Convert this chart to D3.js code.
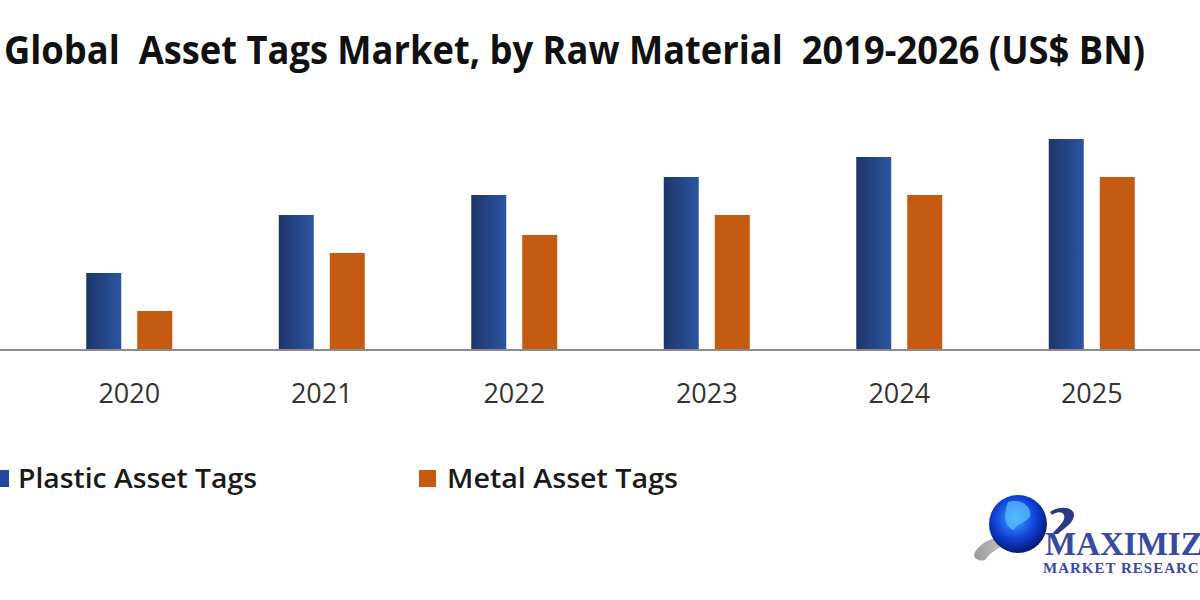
<!DOCTYPE html>
<html><head><meta charset="utf-8">
<script src="https://cdn.jsdelivr.net/npm/d3@7/dist/d3.min.js"></script>
<style>html,body{margin:0;padding:0;background:#fff;overflow:hidden}</style>
</head><body>
<svg id="chart" width="1200" height="600"></svg>
<script>
const years = ["2020", "2021", "2022", "2023", "2024", "2025"];
const seriesNames = ["Plastic Asset Tags", "Metal Asset Tags"];
const plasticValues = [0.76, 1.34, 1.54, 1.72, 1.92, 2.10];
const metalValues = [0.38, 0.96, 1.14, 1.34, 1.54, 1.72];
const titleText = "Global  Asset Tags Market, by Raw Material  2019-2026 (US$ BN)";

const svg = d3.select("#chart");
const defs = svg.append("defs");

const gBlue = defs.append("linearGradient").attr("id", "blueGrad")
  .attr("x1", "0").attr("y1", "0").attr("x2", "1").attr("y2", "0");
gBlue.append("stop").attr("offset", "0").attr("stop-color", "#1d3566");
gBlue.append("stop").attr("offset", "1").attr("stop-color", "#2b55a2");

const globeGrad = defs.append("radialGradient").attr("id", "globeGrad")
  .attr("cx", "0.45").attr("cy", "0.4").attr("r", "0.6");
globeGrad.append("stop").attr("offset", "0").attr("stop-color", "#3aa8ff");
globeGrad.append("stop").attr("offset", "0.6").attr("stop-color", "#1040d8");
globeGrad.append("stop").attr("offset", "1").attr("stop-color", "#061a70");

const swooshGrad = defs.append("linearGradient").attr("id", "swooshGrad")
  .attr("x1", "0").attr("y1", "0").attr("x2", "1").attr("y2", "0");
swooshGrad.append("stop").attr("offset", "0").attr("stop-color", "#9a9a9a");
swooshGrad.append("stop").attr("offset", "1").attr("stop-color", "#e6e6e6");

const colors = d3.scaleOrdinal().domain(seriesNames).range(["url(#blueGrad)", "#c55a11"]);
const legendColors = d3.scaleOrdinal().domain(seriesNames).range(["#24479a", "#c55a11"]);

// Title
svg.append("text")
  .attr("x", 4).attr("y", 64)
  .attr("textLength", 1141).attr("lengthAdjust", "spacingAndGlyphs")
  .style("white-space", "pre")
  .attr("font-family", "'Open Sans', sans-serif")
  .attr("font-weight", 700).attr("font-size", 39).attr("fill", "#111")
  .text(titleText);

// Scales
const x0 = d3.scaleBand().domain(years).range([33, 1188]).padding(0);
const groupW = 86;
const x1 = d3.scaleBand().domain(seriesNames).range([0, groupW]).paddingInner(0.314).paddingOuter(0);
const y = d3.scaleLinear().domain([0, 2.1]).range([349, 139]);

const data = years.map((yr, i) => ({ year: yr, values: [
  { key: seriesNames[0], value: plasticValues[i] },
  { key: seriesNames[1], value: metalValues[i] }
]}));

const groups = svg.append("g").selectAll("g").data(data).join("g")
  .attr("transform", d => `translate(${x0(d.year) + (x0.bandwidth() - groupW) / 2},0)`);
groups.selectAll("rect").data(d => d.values).join("rect")
  .attr("x", d => x1(d.key))
  .attr("width", x1.bandwidth())
  .attr("y", d => y(d.value))
  .attr("height", d => y(0) - y(d.value))
  .attr("fill", d => colors(d.key));

// Baseline
svg.append("line").attr("x1", 0).attr("x2", 1200)
  .attr("y1", y(0) + 1).attr("y2", y(0) + 1)
  .attr("stroke", "#8c8c8c").attr("stroke-width", 2);

// X axis labels
const xAxis = d3.axisBottom(x0).tickSize(0).tickPadding(34);
const ax = svg.append("g").attr("transform", `translate(0,${y(0) + 1})`).call(xAxis);
ax.select(".domain").remove();
ax.selectAll("text")
  .attr("font-family", "'Open Sans', sans-serif")
  .attr("font-size", 27).attr("fill", "#333");

// Legend
const legendX = [-8, 419];
const legendTextX = [18, 447];
const legendTextW = [239, 231];
const leg = svg.append("g").selectAll("g").data(seriesNames).join("g");
leg.append("rect")
  .attr("x", (d, i) => legendX[i]).attr("y", 470)
  .attr("width", 17).attr("height", 17)
  .attr("fill", d => legendColors(d));
leg.append("text")
  .attr("x", (d, i) => legendTextX[i]).attr("y", 488)
  .attr("textLength", (d, i) => legendTextW[i]).attr("lengthAdjust", "spacingAndGlyphs")
  .attr("font-family", "'Open Sans', sans-serif").attr("font-weight", 600)
  .attr("font-size", 27).attr("fill", "#1a1a1a")
  .text(d => d);

// Logo
const logo = svg.append("g");
logo.append("path")
  .attr("d", "M975,552 C985,536 1010,532 1030,540 C1015,540 995,546 985,560 C978,562 972,558 975,552 Z")
  .attr("fill", "url(#swooshGrad)");
logo.append("circle").attr("cx", 1018).attr("cy", 524).attr("r", 29).attr("fill", "url(#globeGrad)");
logo.append("path")
  .attr("d", "M1008,502 C1020,498 1032,506 1030,516 C1026,524 1018,522 1014,530 C1006,528 1002,518 1008,502 Z")
  .attr("fill", "#5cc0ff").attr("opacity", 0.7);
logo.append("path")
  .attr("d", "M1050,512 C1058,506 1074,506 1074,515 C1074,523 1064,528 1058,534 L1052,534 C1058,527 1066,521 1064,515 C1062,511 1056,512 1052,515 Z")
  .attr("fill", "#2c3a86");
logo.append("text").attr("x", 1045).attr("y", 555)
  .attr("font-family", "'Liberation Serif', serif").attr("font-weight", 700)
  .attr("font-size", 33).attr("fill", "#3b4aa0")
  .text("MAXIMIZE");
logo.append("text").attr("x", 1043).attr("y", 573)
  .attr("font-family", "'Liberation Serif', serif").attr("font-weight", 700)
  .attr("font-size", 15).attr("fill", "#3b4aa0").attr("letter-spacing", 1)
  .text("MARKET RESEARCH");
</script>
</body></html>
